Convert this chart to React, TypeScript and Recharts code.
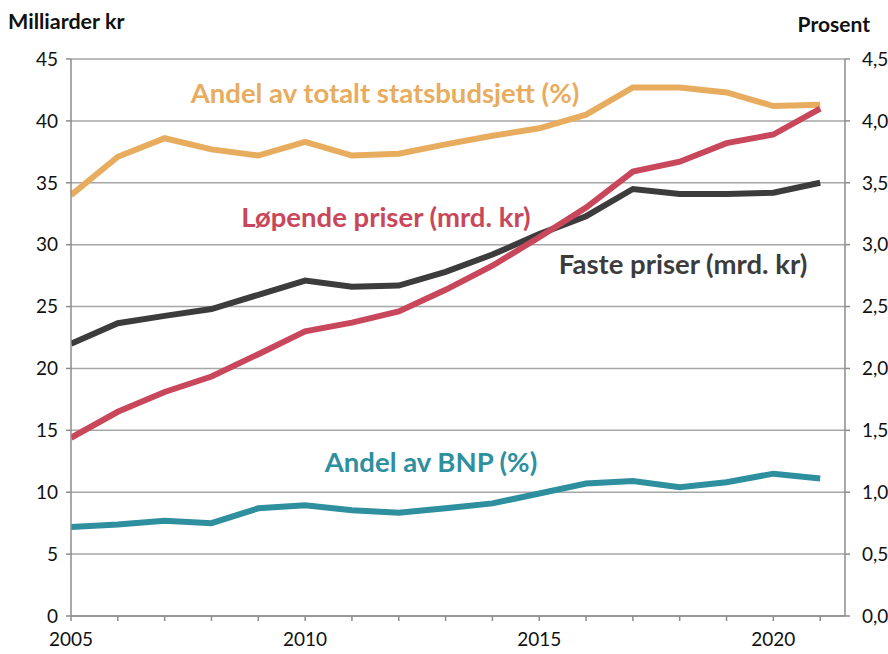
import { LineChart, Line, XAxis, YAxis, CartesianGrid } from "recharts";

const years = [2005, 2006, 2007, 2008, 2009, 2010, 2011, 2012, 2013, 2014, 2015, 2016, 2017, 2018, 2019, 2020, 2021];
const lopendePriser = [14.4, 16.5, 18.1, 19.35, 21.15, 23.0, 23.7, 24.6, 26.35, 28.3, 30.6, 33.0, 35.9, 36.7, 38.2, 38.9, 41.0];
const fastePriser = [22.0, 23.65, 24.25, 24.8, 25.95, 27.1, 26.6, 26.7, 27.8, 29.2, 30.85, 32.3, 34.5, 34.1, 34.1, 34.2, 35.0];
const andelStatsbudsjett = [3.4, 3.71, 3.86, 3.77, 3.72, 3.83, 3.72, 3.735, 3.81, 3.88, 3.94, 4.05, 4.27, 4.27, 4.23, 4.12, 4.13];
const andelBnp = [0.72, 0.74, 0.77, 0.75, 0.87, 0.895, 0.855, 0.835, 0.87, 0.91, 0.99, 1.07, 1.09, 1.04, 1.08, 1.15, 1.11];

const leftTicks = [0, 5, 10, 15, 20, 25, 30, 35, 40, 45];
const rightTicks = [0, 0.5, 1, 1.5, 2, 2.5, 3, 3.5, 4, 4.5];

const data = years.map((year, i) => ({
  year,
  lopende: lopendePriser[i],
  faste: fastePriser[i],
  stats: andelStatsbudsjett[i],
  bnp: andelBnp[i],
}));

const font = "Lato, 'Open Sans', sans-serif";
const axisGrey = "#8c8c8c";
const tickStyle = { fill: "#111", fontSize: 19, fontFamily: font };

export default function App() {
  return (
    <div style={{ position: "absolute", left: 0, top: 0, width: 888, height: 654, background: "#fff", fontFamily: font }}>
      <LineChart
        width={888}
        height={654}
        data={data}
        margin={{ top: 59, right: 3, bottom: 8, left: 11 }}
      >
        <CartesianGrid vertical={false} stroke="#a6a6a6" strokeWidth={1.5} yAxisId="left" />
        <XAxis
          dataKey="year"
          type="number"
          domain={[2005, 2021.53]}
          ticks={years}
          tickFormatter={(v) => (v % 5 === 0 ? String(v) : "")}
          stroke={axisGrey}
          strokeWidth={1.5}
          tickSize={5}
          tickMargin={12}
          tick={tickStyle}
          height={30}
          allowDataOverflow
        />
        <YAxis
          yAxisId="left"
          domain={[0, 45]}
          ticks={leftTicks}
          stroke={axisGrey}
          strokeWidth={1.5}
          tickSize={5}
          tickMargin={8}
          tick={tickStyle}
          width={60}
        />
        <YAxis
          yAxisId="right"
          orientation="right"
          domain={[0, 4.5]}
          ticks={rightTicks}
          tickFormatter={(v) => v.toFixed(1).replace(".", ",")}
          stroke={axisGrey}
          strokeWidth={1.5}
          tickSize={5}
          tickMargin={12}
          tick={{ ...tickStyle, textAnchor: "start" }}
          width={40}
        />
        <Line yAxisId="right" dataKey="stats" stroke="#e8ac5f" strokeWidth={6} dot={false} isAnimationActive={false} />
        <Line yAxisId="left" dataKey="faste" stroke="#3c3c3c" strokeWidth={6} dot={false} isAnimationActive={false} />
        <Line yAxisId="left" dataKey="lopende" stroke="#c9475b" strokeWidth={6} dot={false} isAnimationActive={false} />
        <Line yAxisId="right" dataKey="bnp" stroke="#2e8f9e" strokeWidth={6} dot={false} isAnimationActive={false} />
      </LineChart>
      <svg width={888} height={654} style={{ position: "absolute", left: 0, top: 0, pointerEvents: "none" }}>
        <g fontFamily={font} fontWeight="bold">
          <text x={8} y={29} fontSize={21.5} fill="#111">Milliarder kr</text>
          <text x={870} y={32} fontSize={21} fill="#111" textAnchor="end">Prosent</text>
          <text x={385} y={103} fontSize={27.5} fill="#e8ac5f" textAnchor="middle">Andel av totalt statsbudsjett (%)</text>
          <text x={386} y={227} fontSize={27.5} fill="#c9475b" textAnchor="middle">Løpende priser (mrd. kr)</text>
          <text x={683} y={274} fontSize={27.5} fill="#3c3c3c" textAnchor="middle">Faste priser (mrd. kr)</text>
          <text x={431} y={472} fontSize={27.5} fill="#2e8f9e" textAnchor="middle">Andel av BNP (%)</text>
        </g>
      </svg>
    </div>
  );
}
